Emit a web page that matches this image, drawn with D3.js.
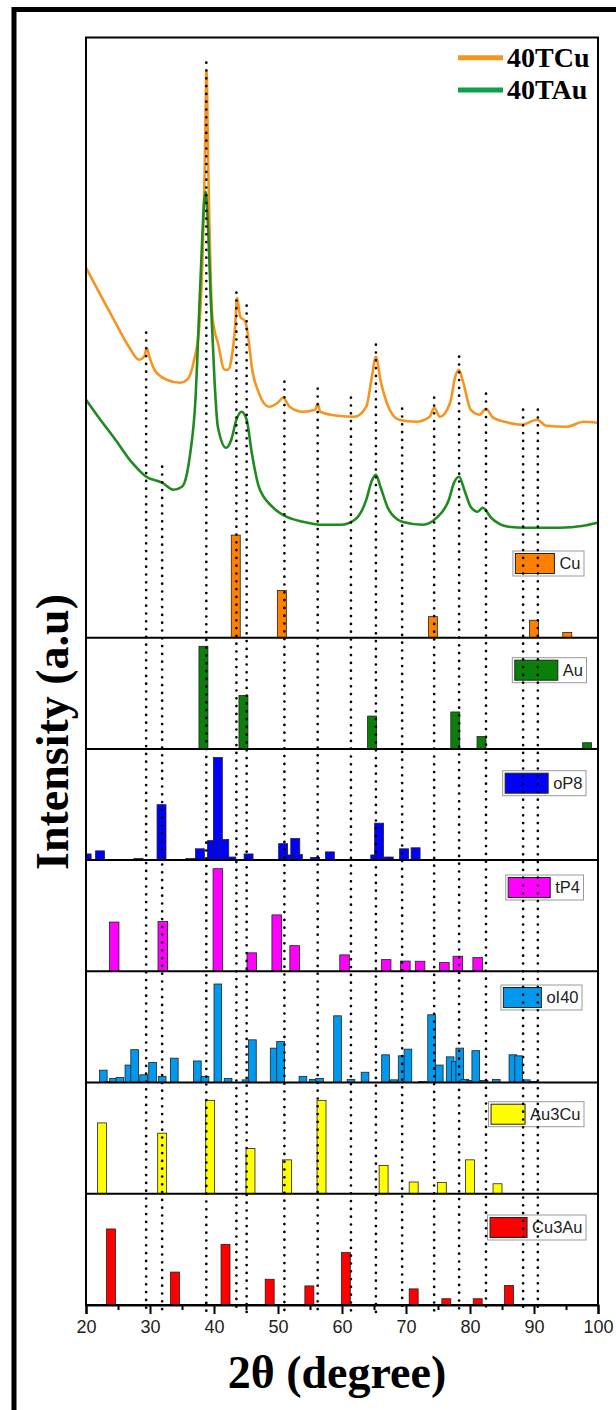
<!DOCTYPE html>
<html>
<head>
<meta charset="utf-8">
<script src="https://cdnjs.cloudflare.com/ajax/libs/d3/7.8.5/d3.min.js"></script>
<style>
  body { margin: 0; background: #fff; }
  svg { display: block; }
</style>
</head>
<body>
<div id="chart"></div>
<script>
// XRD patterns, [2theta, intensity a.u.]
var cuCurve = [[20.0,370],[22.4,341],[24.6,315],[26.7,291],[28.3,278],[29.1,281],[29.5,290],[29.9,281],[30.7,268],[32.6,258],[34.7,255],[35.8,258],[36.9,278],[37.7,311],[38.0,345],[38.3,400],[38.55,470],[38.83,568],[39.1,470],[39.3,410],[39.65,330],[40.0,310],[40.6,295],[41.65,268],[42.2,268],[42.7,278],[43.3,311],[43.6,340],[44.1,321],[44.9,316],[45.4,298],[45.9,271],[47.0,245],[48.6,231],[49.95,235],[50.8,240],[51.8,231],[53.9,226],[55.8,228],[56.2,234],[56.6,226],[59.3,222],[62.0,221],[63.8,231],[64.6,258],[65.3,281],[66.0,258],[67.0,235],[68.9,218],[71.6,216],[73.7,221],[74.4,230],[75.3,221],[76.9,235],[77.7,261],[78.25,268],[78.95,255],[80.1,228],[81.5,223],[82.5,229],[83.6,220],[86.0,215],[88.1,213],[90.5,218],[91.9,212],[95.1,211],[97.75,216],[99.9,215]];
var auCurve = [[20.0,238],[21.9,221],[24.6,198],[27.2,175],[29.4,161],[31.9,155],[33.65,148],[35.0,151],[35.8,165],[36.3,185],[37.1,238],[37.65,321],[38.2,405],[38.45,435],[38.7,446],[39.0,420],[39.5,338],[40.1,255],[40.6,211],[41.9,190],[42.7,198],[43.5,218],[44.3,226],[45.1,218],[45.9,185],[47.0,151],[49.1,131],[51.3,121],[53.9,116],[56.6,113],[59.8,113],[62.0,118],[63.8,138],[64.6,156],[65.3,163],[66.0,151],[67.3,128],[69.4,116],[72.6,113],[74.8,120],[76.7,138],[77.5,155],[78.3,161],[79.1,148],[80.1,131],[81.2,126],[82.0,130],[83.3,120],[86.0,111],[88.7,110],[94.0,110],[97.75,112],[99.9,115]];

var sampleNames = ["40TCu", "40TAu"];

// reference phases, [2theta, relative intensity]
var phaseNames = ["Cu", "Au", "oP8", "tP4", "oI40", "Au3Cu", "Cu3Au"];
var cuBars = [[43.4,100],[50.6,46],[74.2,20.5],[90.0,17],[95.2,5]];
var auBars = [[38.35,100],[44.6,52],[64.7,32],[77.7,36],[81.8,12],[98.3,6]];
var op8Bars = [[20.1,6],[22.2,9],[28.2,1.5],[31.8,54],[36.3,1.5],[37.8,11],[39.7,19],[40.6,100],[41.6,20],[42.7,3],[45.4,6],[50.8,16],[51.5,5],[52.7,21],[53.1,5.5],[55.8,2.5],[58.1,8],[65.2,5],[65.8,36],[67.3,3],[69.7,11],[71.5,12]];
var tp4Bars = [[24.4,48],[32.0,48.5],[40.6,100],[45.9,18],[49.8,55],[52.6,25],[60.4,16],[66.9,11.4],[69.9,10],[72.2,9.8],[76.0,8.5],[78.1,14.7],[81.2,13.4]];
var oi40Bars = [[22.7,12],[23.5,1],[24.3,4],[25.3,5],[26.7,17],[27.6,32],[29.0,7.5],[30.4,19.5],[31.9,6],[33.8,23.7],[37.4,21],[38.6,6],[40.6,96],[42.2,4],[45.0,2.6],[46.0,41.6],[49.4,33.5],[50.4,40],[53.9,6],[55.5,3],[56.5,4],[59.3,65],[61.4,3],[63.6,10],[66.8,27],[68.1,2.6],[69.4,26],[70.3,32.5],[72.6,1],[74.0,66],[75.2,17],[76.9,25],[77.7,20.5],[78.4,33.5],[79.2,3],[80.1,2],[80.9,31],[82.2,2],[84.1,3],[86.7,27],[87.6,26],[88.8,2.6],[90.0,1]];
var au3cuBars = [[22.5,69],[31.9,59],[39.4,91],[45.7,44],[51.4,33],[56.8,91],[66.5,27.6],[71.2,11.4],[75.6,11],[80.0,33],[84.3,9.7]];
var cu3auBars = [[23.9,74],[33.9,32],[41.8,59],[48.7,25],[54.9,18.5],[60.6,51],[71.2,15.6],[76.3,6],[81.2,6],[86.1,19]];
var phaseBars = [cuBars, auBars, op8Bars, tp4Bars, oi40Bars, au3cuBars, cu3auBars];

// guide lines: 2theta and the intensity where each dotted line starts
var guidePos = [29.4, 31.9, 38.8, 43.5, 45.1, 51.0, 56.2, 61.4, 65.3, 69.4, 74.4, 78.3, 82.5, 88.3, 90.6];
var guideTop = [305, 171, 575, 345, 332, 256, 249, 240, 293, 229, 240, 281, 244, 228, 228];

var xTicks = [20, 30, 40, 50, 60, 70, 80, 90, 100];

// styling
var curveColors = ["#f7941d", "#1f8b1f"];
var legendLineColors = ["#f7941d", "#0ba14b"];
var phaseColors = ["#ff8000", "#0a800a", "#0000ff", "#ff00ff", "#0099ee", "#ffff00", "#ff0000"];
var barWidths = [1.4, 1.4, 1.4, 1.5, 1.2, 1.4, 1.4];
// legend box: top offset from panel bottom, swatch width, right edge
var legendLayout = [[-86.7, 39, 584], [-91.2, 43, 586.5], [-89.4, 43, 586], [-96.3, 42, 583.5], [-97.5, 38, 582], [-92, 34, 584], [-89.9, 37, 586]];

var svgWidth = 616, svgHeight = 1410;

var svg = d3.select("#chart").append("svg")
    .attr("width", svgWidth)
    .attr("height", svgHeight);

svg.append("rect").attr("width", svgWidth).attr("height", svgHeight).attr("fill", "#fff");

// outer frame (runs off the right and bottom)
svg.append("rect")
    .attr("x", 14).attr("y", 9.5)
    .attr("width", 700).attr("height", 1500)
    .attr("fill", "none").attr("stroke", "#000").attr("stroke-width", 5);

var x = d3.scaleLinear().domain([20, 100]).range([86, 598]);
var plotTop = 37.5, plotBottom = 1305;

var yCurve = d3.scaleLinear().domain([0, 600]).range([637.7, 37.7]);
var panelBottom = d3.scaleLinear().domain([0, 6]).range([637.7, 1304.9]);

svg.append("clipPath").attr("id", "plotClip")
  .append("rect")
    .attr("x", x(20)).attr("y", plotTop)
    .attr("width", x(100) - x(20)).attr("height", plotBottom - plotTop);

var plot = svg.append("g").attr("clip-path", "url(#plotClip)");

// sample curves
var line = d3.line()
    .x(d => x(d[0]))
    .y(d => yCurve(d[1]))
    .curve(d3.curveMonotoneX);

[cuCurve, auCurve].forEach(function (c, i) {
    plot.append("path")
        .datum(c)
        .attr("d", line)
        .attr("fill", "none")
        .attr("stroke", curveColors[i])
        .attr("stroke-width", 2.6)
        .attr("stroke-linejoin", "round");
});

// stick patterns
phaseBars.forEach(function (bars, i) {
    var bottom = panelBottom(i);
    var yBar = d3.scaleLinear().domain([0, 100]).range([bottom, bottom - 102.6]);
    var w = x(20 + barWidths[i]) - x(20);

    plot.append("g")
        .selectAll("rect")
        .data(bars)
        .enter()
        .append("rect")
        .attr("x", d => x(d[0]) - w / 2)
        .attr("y", d => yBar(d[1]))
        .attr("width", w)
        .attr("height", d => bottom - yBar(d[1]))
        .attr("fill", phaseColors[i])
        .attr("stroke", "#222")
        .attr("stroke-width", 0.8);
});

// legends of the phases
phaseNames.forEach(function (name, i) {
    var lay = legendLayout[i];
    var top = panelBottom(i) + lay[0];
    var g = svg.append("g");
    var box = g.append("rect");
    var sw = g.append("rect");
    var txt = g.append("text")
        .attr("font-family", "'Liberation Sans', Arial, sans-serif")
        .attr("font-size", "16.5px")
        .attr("fill", "#222")
        .attr("y", top + 12.5)
        .attr("dy", "0.36em")
        .text(name);
    var tw = txt.node().getComputedTextLength();
    var tx = lay[2] - 3.5 - tw;
    txt.attr("x", tx);
    var sx = tx - 5 - lay[1];
    sw.attr("x", sx).attr("y", top + 2.5)
        .attr("width", lay[1]).attr("height", 20)
        .attr("fill", phaseColors[i])
        .attr("stroke", "#222").attr("stroke-width", 1);
    box.attr("x", sx - 2.5).attr("y", top)
        .attr("width", lay[2] - sx + 2.5).attr("height", 25)
        .attr("fill", "#fff")
        .attr("stroke", "#999").attr("stroke-width", 1);
});

// panel separators
svg.append("g")
    .selectAll("line")
    .data(d3.range(0, 6))
    .enter()
    .append("line")
    .attr("x1", x(20)).attr("x2", x(100))
    .attr("y1", d => panelBottom(d)).attr("y2", d => panelBottom(d))
    .attr("stroke", "#000").attr("stroke-width", 2);

// dotted guide lines
svg.append("g")
    .selectAll("line")
    .data(guidePos)
    .enter()
    .append("line")
    .attr("x1", d => x(d)).attr("x2", d => x(d))
    .attr("y1", (d, i) => yCurve(guideTop[i]))
    .attr("y2", 1312)
    .attr("stroke", "#000")
    .attr("stroke-width", 2.7)
    .attr("stroke-linecap", "round")
    .attr("stroke-dasharray", "0 7.8");

// plot frame
svg.append("rect")
    .attr("x", x(20)).attr("y", plotTop)
    .attr("width", x(100) - x(20)).attr("height", plotBottom - plotTop)
    .attr("fill", "none").attr("stroke", "#000").attr("stroke-width", 2);

// x axis
var xAxis = svg.append("g")
    .attr("transform", `translate(0, ${plotBottom})`)
    .call(d3.axisBottom(x).tickValues(xTicks).tickSize(9).tickPadding(6));
xAxis.select(".domain").attr("stroke-width", 2);
xAxis.selectAll(".tick line").attr("stroke-width", 2);
xAxis.selectAll(".tick text")
    .attr("font-family", "'Liberation Sans', Arial, sans-serif")
    .attr("font-size", "18px")
    .attr("fill", "#222");

svg.append("g")
    .attr("transform", `translate(0, ${plotBottom})`)
    .call(d3.axisBottom(x).tickValues(d3.range(25, 100, 10)).tickSize(5).tickFormat(""))
    .call(g => g.select(".domain").remove())
    .selectAll(".tick line").attr("stroke-width", 2);

// axis titles
svg.append("text")
    .attr("x", 337).attr("y", 1388)
    .attr("text-anchor", "middle")
    .attr("font-family", "'Liberation Serif', 'Times New Roman', serif")
    .attr("font-weight", "bold")
    .attr("font-size", "46px")
    .text("2θ (degree)");

svg.append("text")
    .attr("transform", "translate(68, 732) rotate(-90)")
    .attr("text-anchor", "middle")
    .attr("font-family", "'Liberation Serif', 'Times New Roman', serif")
    .attr("font-weight", "bold")
    .attr("font-size", "46px")
    .text("Intensity (a.u)");

// sample legend
sampleNames.forEach(function (name, i) {
    var yy = 57.7 + i * 32.3;
    svg.append("line")
        .attr("x1", 458).attr("x2", 503)
        .attr("y1", yy).attr("y2", yy)
        .attr("stroke", legendLineColors[i])
        .attr("stroke-width", 5);
    svg.append("text")
        .attr("x", 507).attr("y", yy + 9)
        .attr("font-family", "'Liberation Serif', 'Times New Roman', serif")
        .attr("font-weight", "bold")
        .attr("font-size", "28px")
        .text(name);
});
</script>
</body>
</html>
